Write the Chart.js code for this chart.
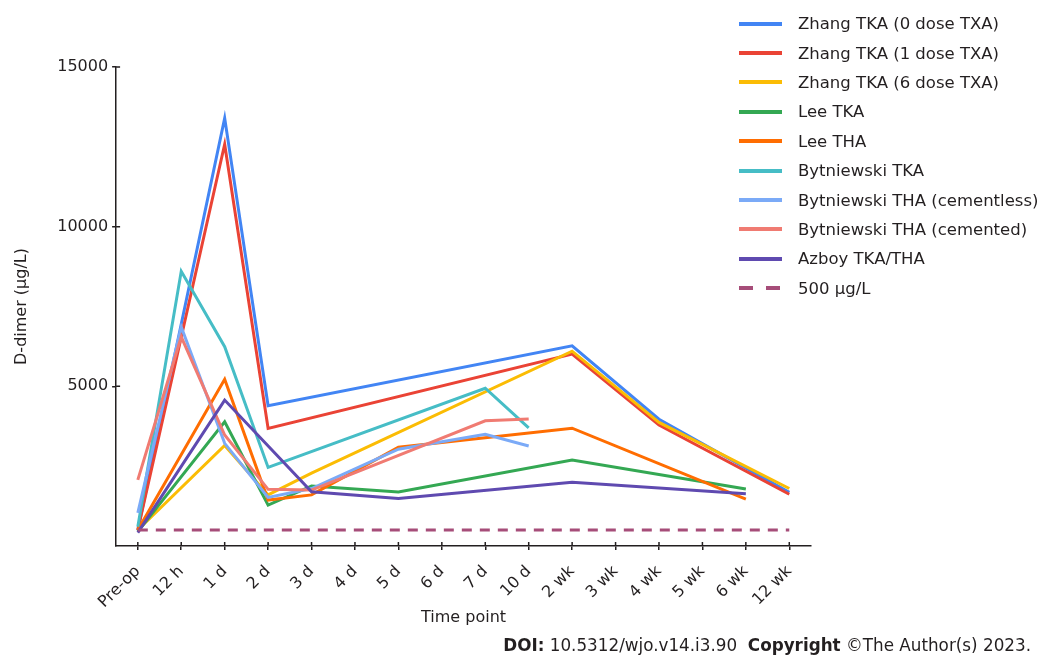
<!DOCTYPE html>
<html>
<head>
<meta charset="utf-8">
<script src="https://cdn.jsdelivr.net/npm/chart.js@4/dist/chart.umd.min.js"></script>
<style>
    body { margin: 0; background: #fff; font-family: "DejaVu Sans", sans-serif; color: #231f20; }
    #wrap { position: relative; width: 1037px; height: 657px; overflow: hidden; }
    #legend { position: absolute; left: 739px; top: 9px; }
    #legend .row { display: flex; align-items: center; height: 29.4px; font-size: 16.5px; white-space: nowrap; }
    #legend svg { margin-right: 16px; }
    #doi { position: absolute; right: 6px; top: 635px; font-size: 16.8px; white-space: pre; }
</style>
</head>
<body>
<div id="wrap">
    <canvas id="dimerChart" width="1037" height="657"></canvas>
    <div id="legend"></div>
    <div id="doi"><b>DOI:</b> 10.5312/wjo.v14.i3.90  <b>Copyright</b> ©The Author(s) 2023.</div>
</div>
<script>
const timePoints = ['Pre-op', '12 h', '1 d', '2 d', '3 d', '4 d', '5 d', '6 d', '7 d', '10 d', '2 wk', '3 wk', '4 wk', '5 wk', '6 wk', '12 wk'];
const yTicks = [5000, 10000, 15000];

//            Pre-op  12h    1d     2d    3d    4d    5d    6d    7d    10d   2wk   3wk   4wk   5wk   6wk   12wk
const zhang0 = [500,  null, 13400, 4390, null, null, null, null, null, null, 6270, null, 3970, null, null, 1680];
const zhang1 = [500,  null, 12580, 3680, null, null, null, null, null, null, 6010, null, 3790, null, null, 1620];
const zhang6 = [500,  null, 3150,  1600, 2280, null, null, null, null, null, 6100, null, 3870, null, null, 1800];
const leeTka = [450,  null, 3890,  1280, 1880, null, 1690, null, null, null, 2690, null, null, null, 1785, null];
const leeTha = [500,  null, 5220,  1440, 1600, null, 3090, null, null, null, 3690, null, null, null, 1470, null];
const bytTka = [600,  8600, 6240,  2460, null, null, null, null, 4940, 3700, null, null, null, null, null, null];
const bytThaCementless = [1040, 6860, 3215, 1520, 1800, null, 3030, null, 3500, 3130, null, null, null, null, null, null];
const bytThaCemented   = [2070, 6550, 3475, 1775, 1750, null, null, null, 3920, 3980, null, null, null, null, null, null];
const azboy  = [420,  null, 4570,  null, 1700, null, 1490, null, null, null, 2000, null, null, null, 1640, null];
const cutoff = [500, 500, 500, 500, 500, 500, 500, 500, 500, 500, 500, 500, 500, 500, 500, 500];

const series = [
    { label: 'Zhang TKA (0 dose TXA)', data: zhang0, color: '#4285f4' },
    { label: 'Zhang TKA (1 dose TXA)', data: zhang1, color: '#ea4335' },
    { label: 'Zhang TKA (6 dose TXA)', data: zhang6, color: '#fbbc04' },
    { label: 'Lee TKA', data: leeTka, color: '#34a853' },
    { label: 'Lee THA', data: leeTha, color: '#ff6d01' },
    { label: 'Bytniewski TKA', data: bytTka, color: '#46bdc6' },
    { label: 'Bytniewski THA (cementless)', data: bytThaCementless, color: '#7baaf7' },
    { label: 'Bytniewski THA (cemented)', data: bytThaCemented, color: '#f07b72' },
    { label: 'Azboy TKA/THA', data: azboy, color: '#5f4ab0' },
    { label: '500 μg/L', data: cutoff, color: '#a64d79', dash: [10, 8] }
];

const axisColor = '#231f20';
const font = { family: 'DejaVu Sans', size: 16 };

// tick marks that cross the axis line, like the original
const crossTicks = {
    id: 'crossTicks',
    afterDraw(chart) {
        const { ctx, scales: { x, y } } = chart;
        ctx.save();
        ctx.strokeStyle = axisColor;
        ctx.lineWidth = 1.5;
        ctx.beginPath();
        x.ticks.forEach((t, i) => {
            const px = x.getPixelForTick(i);
            ctx.moveTo(px, y.bottom - 4);
            ctx.lineTo(px, y.bottom);
        });
        yTicks.forEach(v => {
            const py = y.getPixelForValue(v);
            ctx.moveTo(x.left, py);
            ctx.lineTo(x.left + 4, py);
        });
        ctx.stroke();
        ctx.restore();
    }
};

const chart = new Chart(document.getElementById('dimerChart'), {
    type: 'line',
    data: {
        labels: timePoints,
        datasets: series.map((s, i) => ({
            label: s.label,
            data: s.data,
            borderColor: s.color,
            backgroundColor: s.color,
            borderWidth: 3,
            borderDash: s.dash || [],
            pointRadius: 0,
            tension: 0,
            spanGaps: true,
            order: series.length - i
        }))
    },
    options: {
        responsive: false,
        animation: false,
        layout: { padding: { left: 8, top: 67, right: 226, bottom: 26 } },
        plugins: { legend: { display: false }, tooltip: { enabled: false } },
        scales: {
            x: {
                offset: true,
                afterFit: scale => { scale.height = 85; },
                grid: { drawOnChartArea: false, color: axisColor, lineWidth: 1.5, tickLength: 4 },
                border: { color: axisColor, width: 1.5 },
                ticks: { color: axisColor, font, minRotation: 45, maxRotation: 45, padding: 12 },
                title: { display: true, text: 'Time point', color: axisColor, font, padding: { top: 0, bottom: 4 } }
            },
            y: {
                min: 0,
                max: 15000,
                grid: { drawOnChartArea: false, color: axisColor, lineWidth: 1.5, tickLength: 4 },
                border: { color: axisColor, width: 1.5 },
                afterBuildTicks: scale => { scale.ticks = [0].concat(yTicks).map(v => ({ value: v })); },
                ticks: { color: axisColor, font, padding: 4, callback: v => (v === 0 ? null : String(v)) },
                title: { display: true, text: 'D-dimer (μg/L)', color: axisColor, font, padding: { top: 4, bottom: 22 } }
            }
        }
    },
    plugins: [crossTicks]
});

// legend built from the chart's datasets
const legendEl = document.getElementById('legend');
chart.data.datasets.forEach(ds => {
    const row = document.createElement('div');
    row.className = 'row';
    const dash = ds.borderDash.length ? ' stroke-dasharray="14 13"' : '';
    row.innerHTML = '<svg width="43" height="6"><line x1="0" y1="3" x2="43" y2="3" stroke="' +
        ds.borderColor + '" stroke-width="4"' + dash + '/></svg><span></span>';
    row.querySelector('span').textContent = ds.label;
    legendEl.appendChild(row);
});
</script>
</body>
</html>
